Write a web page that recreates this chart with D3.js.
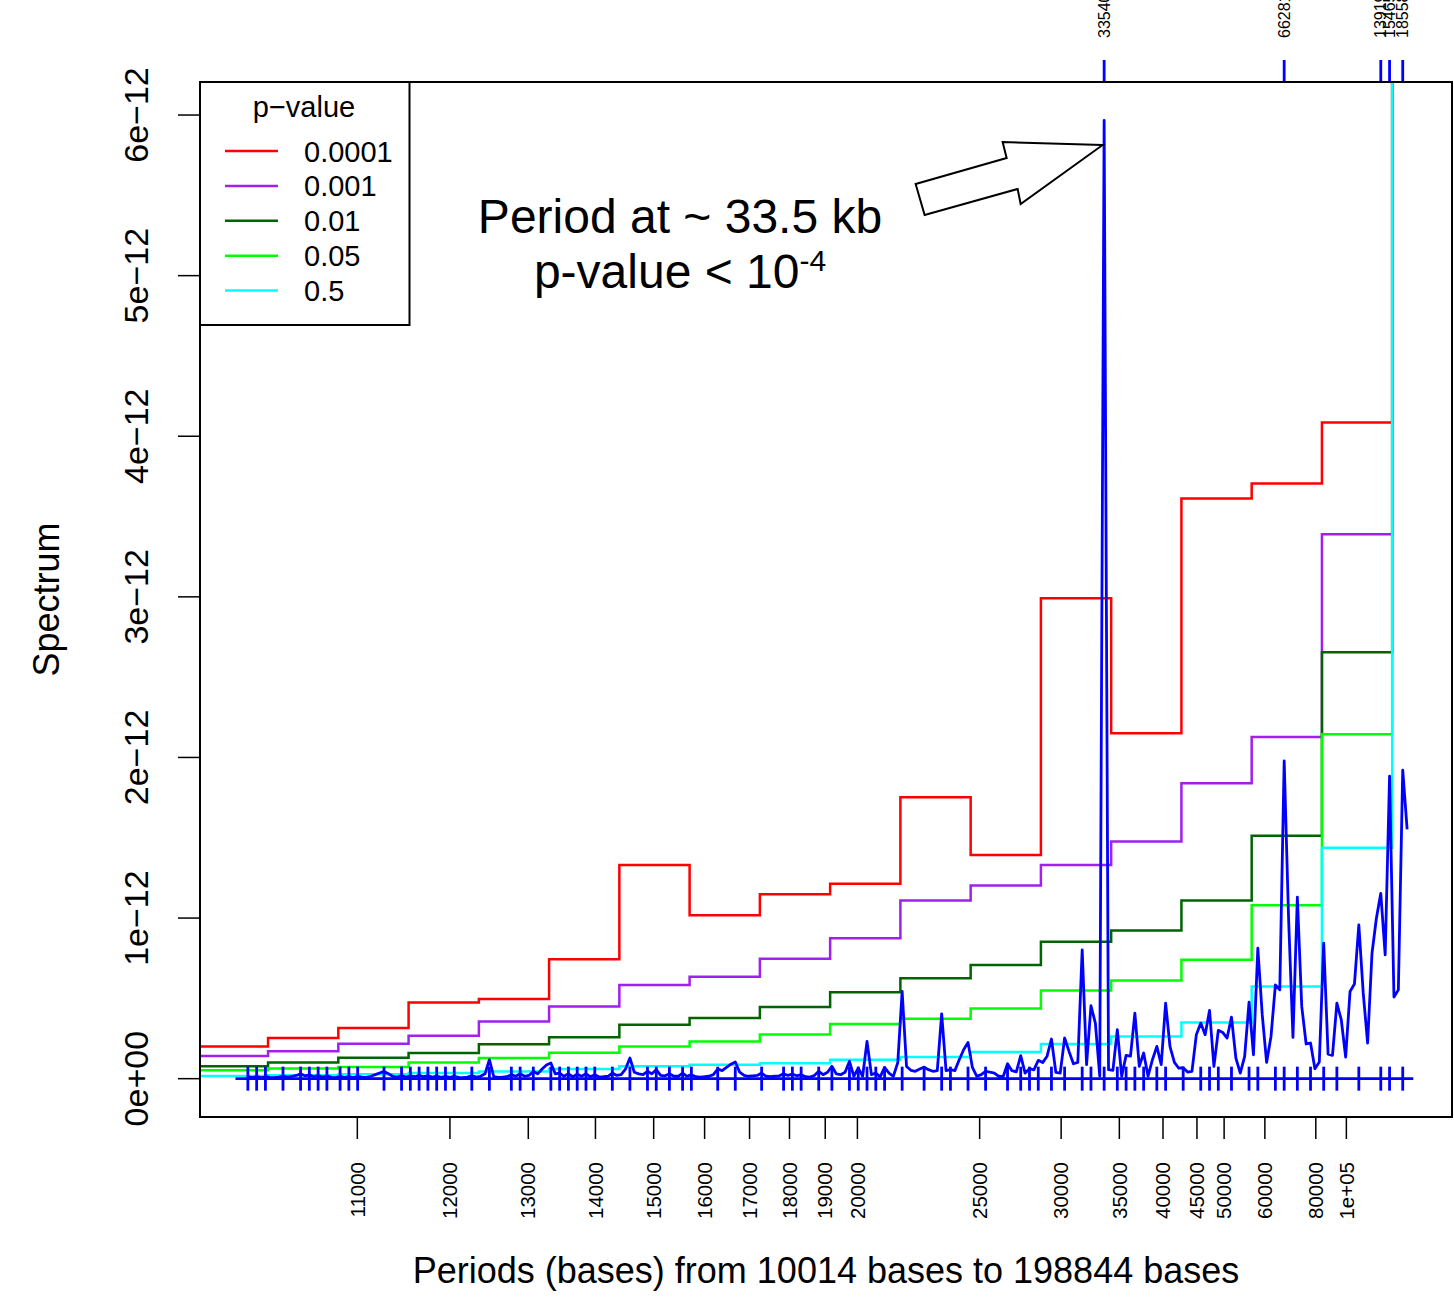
<!DOCTYPE html>
<html>
<head>
<meta charset="utf-8">
<script src="https://cdn.jsdelivr.net/npm/d3@7"></script>
<style>
    body { margin: 0; background: #fff; }
    text { font-family: "Liberation Sans", Arial, Helvetica, sans-serif; fill: #000; }
</style>
</head>
<body>
<svg></svg>
<script>
// length of the sequence the Fourier periods come from (bases)
var seqLength = 2783816;
var firstHarmonic = 278,
    lastHarmonic = 14;

// spectrum (x 1e-12), one value per harmonic, from 278 down to 14 (left to right)
var spectrum = [
    0.012, 0.006, 0.014, 0.005, 0.012, 0.008, 0.006, 0.009, 0.016, 0.010,
    0.015, 0.020, 0.030, 0.018, 0.024, 0.012, 0.020, 0.010, 0.018, 0.008,
    0.006, 0.015, 0.008, 0.012, 0.006, 0.014, 0.010, 0.008, 0.015, 0.025,
    0.035, 0.045, 0.030, 0.015, 0.010, 0.020, 0.010, 0.018, 0.012, 0.020,
    0.012, 0.018, 0.010, 0.016, 0.008, 0.014, 0.008, 0.015, 0.008, 0.006,
    0.010, 0.018, 0.010, 0.015, 0.030, 0.118, 0.012, 0.008, 0.010, 0.012,
    0.025, 0.015, 0.030, 0.015, 0.020, 0.045, 0.030, 0.060, 0.085, 0.098,
    0.030, 0.035, 0.015, 0.030, 0.012, 0.028, 0.015, 0.030, 0.012, 0.025,
    0.010, 0.012, 0.015, 0.035, 0.020, 0.025, 0.060, 0.129, 0.040, 0.030,
    0.025, 0.046, 0.030, 0.056, 0.020, 0.018, 0.030, 0.015, 0.015, 0.035,
    0.015, 0.025, 0.012, 0.010, 0.012, 0.015, 0.025, 0.060, 0.050, 0.070,
    0.090, 0.104, 0.040, 0.020, 0.015, 0.018, 0.020, 0.035, 0.015, 0.012,
    0.015, 0.018, 0.030, 0.020, 0.028, 0.018, 0.025, 0.012, 0.010, 0.020,
    0.046, 0.025, 0.040, 0.077, 0.030, 0.025, 0.040, 0.108, 0.015, 0.066,
    0.015, 0.232, 0.025, 0.035, 0.011, 0.070, 0.035, 0.015, 0.100, 0.543,
    0.076, 0.052, 0.046, 0.060, 0.072, 0.056, 0.046, 0.050, 0.404, 0.050,
    0.056, 0.050, 0.118, 0.180, 0.226, 0.070, 0.015, 0.025, 0.046, 0.040,
    0.035, 0.015, 0.012, 0.093, 0.050, 0.042, 0.143, 0.035, 0.062, 0.055,
    0.114, 0.100, 0.140, 0.247, 0.039, 0.035, 0.253, 0.170, 0.093, 0.101,
    0.802, 0.087, 0.454, 0.346, 0.015, 5.967, 0.056, 0.052, 0.305, 0.015,
    0.145, 0.140, 0.408, 0.077, 0.160, 0.015, 0.118, 0.201, 0.087, 0.470,
    0.200, 0.101, 0.065, 0.068, 0.041, 0.045, 0.274, 0.346, 0.274, 0.425,
    0.077, 0.301, 0.288, 0.253, 0.383, 0.128, 0.035, 0.139, 0.477, 0.149,
    0.812, 0.400, 0.101, 0.263, 0.584, 0.553, 1.979, 1.000, 0.257, 1.130,
    0.450, 0.216, 0.222, 0.062, 0.104, 0.844, 0.153, 0.145, 0.470, 0.367,
    0.135, 0.543, 0.589, 0.958, 0.534, 0.222, 0.781, 0.999, 1.154, 0.771,
    1.884, 0.508, 0.553, 1.921, 1.552
];

// local peaks marked along the zero line (harmonic numbers)
var rugHarmonics = [
    278, 276, 274, 270, 266, 264, 262, 260, 257, 255, 253, 247, 243, 241, 239,
    237, 235, 233, 231, 227, 223, 218, 216, 213, 209, 207, 205, 203, 201, 199,
    195, 191, 187, 185, 182, 179, 177, 171, 167, 161, 156, 154, 152, 148, 145,
    141, 139, 137, 135, 133, 129, 124, 120, 118, 114, 110, 105, 102, 100, 98,
    95, 92, 88, 86, 83, 80, 78, 76, 74, 71, 69, 65, 61, 59, 57, 54, 50, 48,
    44, 42, 39, 36, 33, 30, 25, 20, 18, 15
];
// peaks labelled on the top axis
var topHarmonics = [83, 42, 20, 18, 15];
// span of the blue zero line (periods)
var zeroLineSpan = [9913, 221000];

// significance bands: break periods and threshold levels (x 1e-12)
var bandBreaks = [9619, 10182, 10815, 11532, 12351, 13294, 14394, 15692, 17248,
    19146, 21513, 24549, 28581, 34199, 42566, 56352, 83348, 159989];
var pValues = ["0.0001", "0.001", "0.01", "0.05", "0.5"];
var pColors = ["#ff0000", "#a020f0", "#006400", "#00ff00", "#00ffff"];
var thr0001 = [0.201, 0.253, 0.315, 0.474, 0.496, 0.744, 1.331, 1.018, 1.148, 1.213, 1.752, 1.393, 2.991, 2.151, 3.613, 3.706, 4.085];
var thr001 = [0.141, 0.170, 0.218, 0.267, 0.356, 0.450, 0.583, 0.634, 0.746, 0.875, 1.109, 1.202, 1.331, 1.476, 1.839, 2.127, 3.389];
var thr01 = [0.078, 0.101, 0.131, 0.160, 0.215, 0.258, 0.335, 0.377, 0.446, 0.538, 0.625, 0.708, 0.852, 0.922, 1.109, 1.513, 2.655];
var thr05 = [0.053, 0.064, 0.073, 0.101, 0.129, 0.162, 0.201, 0.231, 0.275, 0.340, 0.373, 0.437, 0.549, 0.611, 0.740, 1.080, 2.145];
var thr5 = [0.016, 0.022, 0.028, 0.035, 0.045, 0.060, 0.077, 0.087, 0.096, 0.118, 0.135, 0.166, 0.216, 0.263, 0.350, 0.574, 1.438];

var xTicks = [11000, 12000, 13000, 14000, 15000, 16000, 17000, 18000, 19000, 20000,
    25000, 30000, 35000, 40000, 45000, 50000, 60000, 80000, 100000];
var xTickLabels = ["11000", "12000", "13000", "14000", "15000", "16000", "17000", "18000", "19000", "20000",
    "25000", "30000", "35000", "40000", "45000", "50000", "60000", "80000", "1e+05"];
var yTicks = [0, 1, 2, 3, 4, 5, 6];
var yTickLabels = ["0e+00", "1e\u221212", "2e\u221212", "3e\u221212", "4e\u221212", "5e\u221212", "6e\u221212"];

var width = 1454,
    height = 1297;
var plotLeft = 200, plotRight = 1452, plotTop = 82, plotBottom = 1117;

var svg = d3.select("svg")
    .attr("width", width)
    .attr("height", height);

var harmonics = d3.range(firstHarmonic, lastHarmonic - 1, -1);
function periodOf(k) {
    return seqLength / k;
}

// x is linear in frequency (1/period), 4% padding like R
var fLo = lastHarmonic / seqLength,
    fHi = firstHarmonic / seqLength,
    fPad = 0.04 * (fHi - fLo);
var freq = d3.scaleLinear()
    .domain([fHi + fPad, fLo - fPad])
    .range([plotLeft + 1.5, plotRight + 1.5]);
function x(period) {
    return freq(1 / period);
}

var yMax = d3.max(spectrum),
    yPad = 0.04 * yMax;
var y = d3.scaleLinear()
    .domain([-yPad, yMax + yPad])
    .range([plotBottom, plotTop]);

svg.append("clipPath")
    .attr("id", "plotclip")
    .append("rect")
    .attr("x", plotLeft)
    .attr("y", plotTop)
    .attr("width", plotRight - plotLeft)
    .attr("height", plotBottom - plotTop);

var plot = svg.append("g").attr("clip-path", "url(#plotclip)");

// threshold step lines
var stepLine = d3.line()
    .curve(d3.curveStepAfter)
    .x(function(d) { return x(d[0]); })
    .y(function(d) { return y(d[1]); });

[thr0001, thr001, thr01, thr05, thr5].forEach(function(levels, i) {
    var pts = levels.map(function(v, j) {
        return [bandBreaks[j], v];
    });
    pts.push([bandBreaks[bandBreaks.length - 1], y.domain()[1]]);
    plot.append("path")
        .attr("d", stepLine(pts))
        .attr("fill", "none")
        .attr("stroke", pColors[i])
        .attr("stroke-width", 2.5);
});

// spectrum
var specLine = d3.line()
    .x(function(d, i) { return x(periodOf(harmonics[i])); })
    .y(function(d) { return y(d); });

plot.append("path")
    .attr("d", specLine(spectrum))
    .attr("fill", "none")
    .attr("stroke", "#0000ff")
    .attr("stroke-width", 2.8)
    .attr("stroke-linejoin", "round");

// zero line with peak ticks
plot.append("line")
    .attr("x1", x(zeroLineSpan[0]))
    .attr("x2", x(zeroLineSpan[1]))
    .attr("y1", y(0))
    .attr("y2", y(0))
    .attr("stroke", "#0000ff")
    .attr("stroke-width", 2.8);

plot.selectAll(".rug")
    .data(rugHarmonics)
    .enter().append("line")
    .attr("class", "rug")
    .attr("x1", function(k) { return x(periodOf(k)); })
    .attr("x2", function(k) { return x(periodOf(k)); })
    .attr("y1", y(0) - 12)
    .attr("y2", y(0) + 12)
    .attr("stroke", "#0000ff")
    .attr("stroke-width", 2.8);

// top axis: labelled peaks
var topAxis = svg.append("g");
topAxis.selectAll("line")
    .data(topHarmonics)
    .enter().append("line")
    .attr("x1", function(k) { return x(periodOf(k)); })
    .attr("x2", function(k) { return x(periodOf(k)); })
    .attr("y1", plotTop)
    .attr("y2", plotTop - 22)
    .attr("stroke", "#0000ff")
    .attr("stroke-width", 2.8);
topAxis.selectAll("text")
    .data(topHarmonics)
    .enter().append("text")
    .attr("transform", function(k) {
        return "translate(" + x(periodOf(k)) + ",38) rotate(-90)";
    })
    .attr("dy", "0.35em")
    .style("font-size", "16px")
    .style("text-anchor", "start")
    .text(function(k) { return Math.round(periodOf(k)); });

// bottom axis
var xAxis = svg.append("g");
xAxis.selectAll("line")
    .data(xTicks)
    .enter().append("line")
    .attr("x1", function(d) { return x(d); })
    .attr("x2", function(d) { return x(d); })
    .attr("y1", plotBottom)
    .attr("y2", plotBottom + 22)
    .attr("stroke", "#000")
    .attr("stroke-width", 1.5);
xAxis.selectAll("text")
    .data(xTicks)
    .enter().append("text")
    .attr("transform", function(d) {
        return "translate(" + x(d) + ",1162) rotate(-90)";
    })
    .attr("dy", "0.35em")
    .style("font-size", "20.5px")
    .style("text-anchor", "end")
    .text(function(d, i) { return xTickLabels[i]; });

// left axis
var yAxis = svg.append("g");
yAxis.selectAll("line")
    .data(yTicks)
    .enter().append("line")
    .attr("x1", plotLeft - 22)
    .attr("x2", plotLeft)
    .attr("y1", function(d) { return y(d); })
    .attr("y2", function(d) { return y(d); })
    .attr("stroke", "#000")
    .attr("stroke-width", 1.5);
yAxis.selectAll("text")
    .data(yTicks)
    .enter().append("text")
    .attr("transform", function(d) {
        return "translate(148," + y(d) + ") rotate(-90)";
    })
    .style("font-size", "34px")
    .style("text-anchor", "middle")
    .text(function(d, i) { return yTickLabels[i]; });

// frame
svg.append("rect")
    .attr("x", plotLeft)
    .attr("y", plotTop)
    .attr("width", plotRight - plotLeft)
    .attr("height", plotBottom - plotTop)
    .attr("fill", "none")
    .attr("stroke", "#000")
    .attr("stroke-width", 2);

// axis titles
svg.append("text")
    .attr("x", (plotLeft + plotRight) / 2)
    .attr("y", 1283)
    .style("font-size", "36px")
    .style("text-anchor", "middle")
    .text("Periods (bases) from 10014 bases to 198844 bases");

svg.append("text")
    .attr("transform", "translate(59," + (plotTop + plotBottom) / 2 + ") rotate(-90)")
    .style("font-size", "36px")
    .style("text-anchor", "middle")
    .text("Spectrum");

// legend
var legend = svg.append("g");
legend.append("rect")
    .attr("x", plotLeft)
    .attr("y", plotTop)
    .attr("width", 209.5)
    .attr("height", 243)
    .attr("fill", "#fff")
    .attr("stroke", "#000")
    .attr("stroke-width", 2);
legend.append("text")
    .attr("x", 304)
    .attr("y", 117)
    .style("font-size", "29px")
    .style("text-anchor", "middle")
    .text("p\u2212value");

var entry = legend.selectAll(".entry")
    .data(pValues)
    .enter().append("g")
    .attr("class", "entry")
    .attr("transform", function(d, i) {
        return "translate(0," + (151 + 34.9 * i) + ")";
    });
entry.append("line")
    .attr("x1", 225)
    .attr("x2", 278)
    .attr("stroke", function(d, i) { return pColors[i]; })
    .attr("stroke-width", 2.5);
entry.append("text")
    .attr("x", 304)
    .attr("y", 10.5)
    .style("font-size", "29px")
    .text(function(d) { return d; });

// annotation
var note = svg.append("g");
note.append("text")
    .attr("x", 680)
    .attr("y", 233)
    .style("font-size", "48px")
    .style("text-anchor", "middle")
    .text("Period at ~ 33.5 kb");
var note2 = note.append("text")
    .attr("x", 680)
    .attr("y", 288)
    .style("font-size", "48px")
    .style("text-anchor", "middle");
note2.append("tspan").text("p-value < 10");
note2.append("tspan")
    .attr("dy", -17)
    .style("font-size", "30px")
    .text("-4");

// block arrow pointing at the main peak
var tipX = x(periodOf(83)) - 1.5,
    tipY = 145;
var arrow = [[0, 0], [-100, -3], [-96, 13], [-187, 39], [-178, 70], [-85, 44], [-82, 59]];
note.append("path")
    .attr("d", d3.line()(arrow.map(function(p) {
        return [tipX + p[0], tipY + p[1]];
    })) + "Z")
    .attr("fill", "#fff")
    .attr("stroke", "#000")
    .attr("stroke-width", 2)
    .attr("stroke-linejoin", "miter");
</script>
</body>
</html>
